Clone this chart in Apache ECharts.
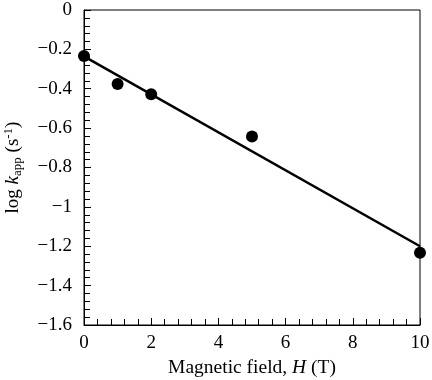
<!DOCTYPE html>
<html>
<head>
<meta charset="utf-8">
<script src="https://cdn.jsdelivr.net/npm/echarts@6/dist/echarts.min.js"></script>
<style>html,body{margin:0;padding:0;background:#fff}#c{width:432px;height:380px}</style>
</head>
<body>
<div id="c"></div>
<script>
const fieldH = [0, 1, 2, 5, 10];
const logK = [-0.234, -0.376, -0.428, -0.643, -1.233];
const fitH = [0, 10];
const fitLogK = [-0.236, -1.20];

const FONT = '"Liberation Serif", "DejaVu Serif", serif';
const chart = echarts.init(document.getElementById('c'), null, {renderer: 'canvas'});
chart.setOption({
  animation: false,
  backgroundColor: '#fff',
  textStyle: {fontFamily: FONT, color: '#000'},
  grid: {left: 84, right: 12, top: 10, bottom: 55, show: true, borderColor: '#000', borderWidth: 1,
         backgroundColor: 'transparent', containLabel: false, outerBoundsMode: 'none'},
  xAxis: {
    type: 'value', min: 0, max: 10, interval: 2,
    name: '{n|Magnetic field, }{i|H}{n| (T)}',
    nameLocation: 'middle', nameGap: 30,
    nameTextStyle: {rich: {n: {fontFamily: FONT, fontSize: 19.5, color: '#000'}, i: {fontFamily: FONT, fontSize: 19.5, fontStyle: 'italic', color: '#000'}}},
    axisLine: {show: true, onZero: false, lineStyle: {color: '#000', width: 1}},
    axisTick: {show: true, inside: true, length: 7, lineStyle: {color: '#000', width: 1}},
    minorTick: {show: true, splitNumber: 5, length: 6, lineStyle: {color: '#000', width: 1}},
    splitLine: {show: false},
    axisLabel: {fontFamily: FONT, fontSize: 19, color: '#000', margin: 9}
  },
  yAxis: {
    type: 'value', min: -1.6, max: 0, interval: 0.2,
    name: '{n|log }{i|k}{sub|app}{n| (s}{sup|-1}{n|)}',
    nameLocation: 'middle', nameGap: 60, nameRotate: 90,
    nameTextStyle: {rich: {
      n: {fontFamily: FONT, fontSize: 19, color: '#000'},
      i: {fontFamily: FONT, fontSize: 19, fontStyle: 'italic', color: '#000'},
      sub: {fontFamily: FONT, fontSize: 13, color: '#000', verticalAlign: 'bottom', padding: [9, 0, 0, 0]},
      sup: {fontFamily: FONT, fontSize: 13, color: '#000', verticalAlign: 'top', padding: [0, 0, 7, 0]}
    }},
    axisLine: {show: true, onZero: false, lineStyle: {color: '#000', width: 1}},
    axisTick: {show: true, inside: true, length: 7, lineStyle: {color: '#000', width: 1}},
    minorTick: {show: true, splitNumber: 5, length: 6, lineStyle: {color: '#000', width: 1}},
    splitLine: {show: false},
    axisLabel: {fontFamily: FONT, fontSize: 19, color: '#000', margin: 12,
      formatter: v => (Math.round(v * 10) / 10).toString().replace('-', '\u2212')}
  },
  series: [
    {type: 'line', data: fitH.map((x, i) => [x, fitLogK[i]]), showSymbol: false, symbol: 'none',
     lineStyle: {color: '#000', width: 2.5}, clip: false, z: 2},
    {type: 'scatter', data: fieldH.map((x, i) => [x, logK[i]]), symbol: 'circle', symbolSize: 12,
     itemStyle: {color: '#000', opacity: 1}, clip: false, z: 3}
  ]
});
</script>
</body>
</html>
